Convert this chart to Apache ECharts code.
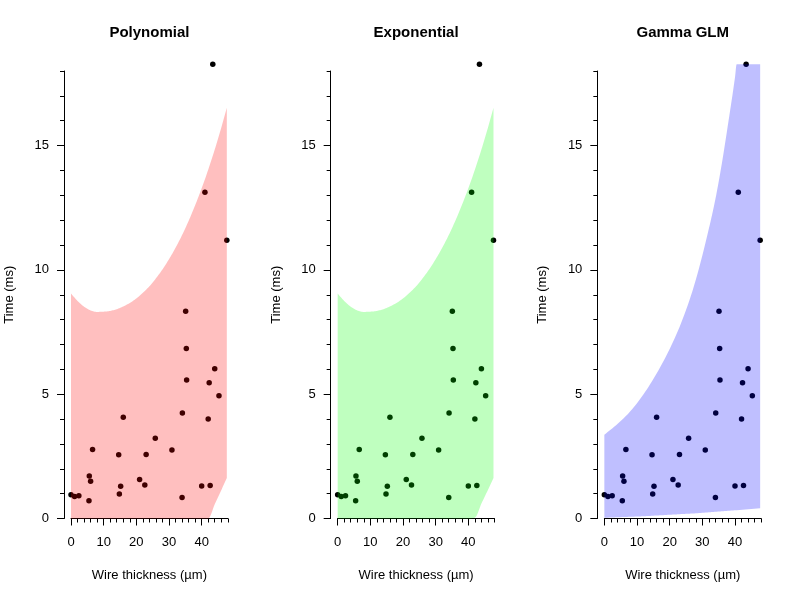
<!DOCTYPE html>
<html><head><meta charset="utf-8">
<script src="https://cdn.jsdelivr.net/npm/echarts@6/dist/echarts.min.js"></script>
<style>html,body{margin:0;padding:0;background:#fff}#c{width:800px;height:600px}</style>
</head><body><div id="c"></div>
<script>
// ---- data ----
const panelTitles = ['Polynomial', 'Exponential', 'Gamma GLM'];
const xAxisName = 'Wire thickness (µm)';
const yAxisName = 'Time (ms)';
const xMajorTicks = [0, 10, 20, 30, 40];
const yMajorTicks = [0, 5, 10, 15];

const pointX = [0.0, 1.1, 2.4, 5.5, 5.6, 6.0, 6.6, 14.6, 14.8, 15.2, 16.0, 21.0, 22.6, 23.0, 25.8,
                30.9, 34.0, 34.1, 35.1, 35.3, 35.4, 40.0, 41.0, 42.0, 42.3, 42.6, 43.4, 44.0, 45.3, 47.7];
const pointY = [0.96, 0.88, 0.92, 0.71, 1.71, 1.50, 2.78, 2.56, 0.99, 1.30, 4.07, 1.57, 1.35, 2.57, 3.23,
                2.76, 0.84, 4.24, 8.34, 6.84, 5.57, 1.31, 13.12, 4.00, 5.46, 1.33, 18.27, 6.02, 4.94, 11.19];

const polyX     = [0, 2, 4, 6, 8, 10, 12, 14, 16, 18, 20, 22, 24, 26, 28, 30, 32, 34, 36, 38, 40, 42, 44, 46, 47.7];
const polyUpper = [9.05, 8.75, 8.52, 8.37, 8.31, 8.32, 8.35, 8.42, 8.53, 8.67, 8.85, 9.08, 9.34, 9.66, 10.02,
                   10.43, 10.89, 11.40, 11.97, 12.60, 13.28, 14.03, 14.84, 15.72, 16.52];
const polyLower = [0, 0, 0, 0, 0, 0, 0, 0, 0, 0, 0, 0, 0, 0, 0, 0, 0, 0, 0, 0, 0, 0, 0.57, 1.14, 1.63];

const expX     = [0, 2, 4, 6, 8, 10, 12, 14, 16, 18, 20, 22, 24, 26, 28, 30, 32, 34, 36, 38, 40, 42, 44, 46, 47.7];
const expUpper = [9.05, 8.75, 8.52, 8.37, 8.31, 8.32, 8.35, 8.42, 8.53, 8.67, 8.85, 9.08, 9.34, 9.66, 10.02,
                  10.43, 10.89, 11.40, 11.97, 12.60, 13.28, 14.03, 14.84, 15.72, 16.52];
const expLower = [0, 0, 0, 0, 0, 0, 0, 0, 0, 0, 0, 0, 0, 0, 0, 0, 0, 0, 0, 0, 0, 0.03, 0.60, 1.15, 1.63];

const gammaX     = [0, 4, 8, 12, 16, 20, 24, 28, 32, 34, 36, 38, 40, 40.5, 47.7];
const gammaUpper = [3.37, 3.80, 4.32, 5.00, 5.83, 6.82, 8.03, 9.60, 11.66, 12.85, 14.30, 15.98, 17.75, 18.27, 18.27];
const gammaLower = [0.03, 0.05, 0.07, 0.09, 0.12, 0.15, 0.18, 0.21, 0.25, 0.27, 0.29, 0.31, 0.33, 0.335, 0.41];

const bandColors = ['rgba(255,0,0,0.25)', 'rgba(0,255,0,0.25)', 'rgba(0,0,255,0.25)'];

// ---- layout ----
const FONT = '"Liberation Sans", Arial, sans-serif';
const gridLeft0 = 71, gridStep = 266.67, gridW = 156.8, gridTop = 71, gridH = 447.5;
const bands = [[polyX, polyUpper, polyLower], [expX, expUpper, expLower], [gammaX, gammaUpper, gammaLower]];

// monotone cubic (Fritsch-Carlson) through pixel points, sampled for drawing
function monotoneCurve(P, steps) {
  const n = P.length;
  const d = [], m = new Array(n);
  for (let i = 0; i < n - 1; i++) d.push((P[i + 1][1] - P[i][1]) / (P[i + 1][0] - P[i][0]));
  m[0] = d[0]; m[n - 1] = d[n - 2];
  for (let i = 1; i < n - 1; i++) m[i] = (d[i - 1] * d[i] <= 0) ? 0 : (d[i - 1] + d[i]) / 2;
  for (let i = 0; i < n - 1; i++) {
    if (d[i] === 0) { m[i] = 0; m[i + 1] = 0; continue; }
    const a = m[i] / d[i], b = m[i + 1] / d[i], s = a * a + b * b;
    if (s > 9) { const t = 3 / Math.sqrt(s); m[i] = t * a * d[i]; m[i + 1] = t * b * d[i]; }
  }
  const out = [P[0]];
  for (let i = 0; i < n - 1; i++) {
    const [x0, y0] = P[i], [x1, y1] = P[i + 1], h = x1 - x0;
    for (let s = 1; s <= steps; s++) {
      const t = s / steps, t2 = t * t, t3 = t2 * t;
      const y = (2 * t3 - 3 * t2 + 1) * y0 + (t3 - 2 * t2 + t) * h * m[i] + (-2 * t3 + 3 * t2) * y1 + (t3 - t2) * h * m[i + 1];
      out.push([x0 + t * h, y]);
    }
  }
  return out;
}

const grid = [], xAxis = [], yAxis = [], series = [], graphic = [];
const lineStyle = {color: '#000', width: 1};
for (let i = 0; i < 3; i++) {
  const L = gridLeft0 + gridStep * i;
  grid.push({left: L, top: gridTop, width: gridW, height: gridH, containLabel: false});
  graphic.push({type: 'text', x: L + gridW / 2, y: 33,
    style: {text: panelTitles[i], textAlign: 'center', textVerticalAlign: 'middle',
            font: 'bold 15px ' + FONT, fill: '#000'}});
  xAxis.push({type: 'value', gridIndex: i, min: 0, max: 48, interval: 2, position: 'bottom',
    axisLine: {show: true, onZero: false, lineStyle}, axisTick: {show: true, length: 4, lineStyle},
    axisLabel: {show: false}, splitLine: {show: false}});
  xAxis.push({type: 'value', gridIndex: i, min: 0, max: 48, interval: 10, position: 'bottom',
    axisLine: {show: false, onZero: false}, axisTick: {show: true, length: 7, lineStyle, customValues: xMajorTicks},
    axisLabel: {show: true, customValues: xMajorTicks, margin: 17, fontSize: 13, color: '#000', fontFamily: FONT},
    splitLine: {show: false},
    name: xAxisName, nameLocation: 'middle', nameGap: 50,
    nameTextStyle: {fontSize: 13, color: '#000', fontFamily: FONT}});
  yAxis.push({type: 'value', gridIndex: i, min: 0, max: 18, interval: 1, position: 'left', offset: 7,
    axisLine: {show: true, onZero: false, lineStyle}, axisTick: {show: true, length: 4, lineStyle},
    axisLabel: {show: false}, splitLine: {show: false}});
  yAxis.push({type: 'value', gridIndex: i, min: 0, max: 18, interval: 5, position: 'left', offset: 7,
    axisLine: {show: false, onZero: false}, axisTick: {show: true, length: 7, lineStyle, customValues: yMajorTicks},
    axisLabel: {show: true, customValues: yMajorTicks, margin: 15, fontSize: 13, color: '#000', fontFamily: FONT},
    splitLine: {show: false},
    name: yAxisName, nameLocation: 'middle', nameGap: 48,
    nameTextStyle: {fontSize: 13, color: '#000', fontFamily: FONT}});

  const [bx, bu, bl] = bands[i];
  const color = bandColors[i];
  series.push({type: 'scatter', xAxisIndex: 2 * i, yAxisIndex: 2 * i, clip: false, z: 2,
    symbolSize: 5.5, itemStyle: {color: '#000', opacity: 1}, silent: true,
    data: pointX.map((x, k) => [x, pointY[k]])});
  series.push({type: 'custom', xAxisIndex: 2 * i, yAxisIndex: 2 * i, clip: false, z: 3, silent: true,
    data: [[bx[0], bl[0]]],
    renderItem: function (params, api) {
      const up = bx.map((x, k) => api.coord([x, bu[k]]));
      const lo = bx.map((x, k) => api.coord([x, bl[k]])).reverse();
      const pts = monotoneCurve(up, 8).concat(monotoneCurve(lo, 8));
      return {type: 'polygon', shape: {points: pts}, style: {fill: color, stroke: null}};
    }});
}

const chart = echarts.init(document.getElementById('c'), null, {renderer: 'canvas'});
chart.setOption({animation: false, backgroundColor: '#fff', grid, xAxis, yAxis, series, graphic});
</script></body></html>
